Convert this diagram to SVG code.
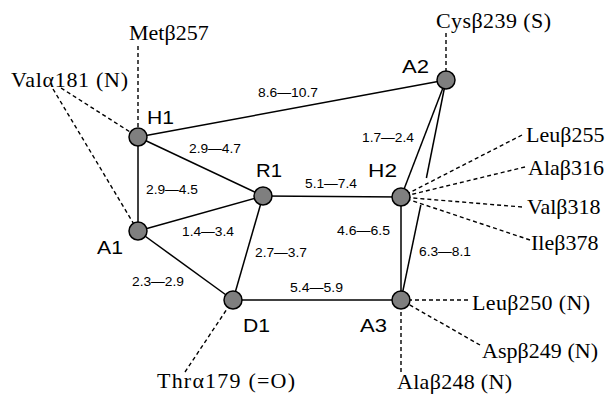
<svg xmlns="http://www.w3.org/2000/svg" width="606" height="394" viewBox="0 0 606 394">
<style>
.e{stroke:#000;stroke-width:1.5;fill:none}
.d{stroke:#000;stroke-width:1.4;fill:none;stroke-dasharray:4 3}
.n{fill:#7f7f7f;stroke:#000;stroke-width:1.5}
.nl{font-family:"Liberation Sans",Arial,sans-serif;font-size:18px;fill:#000}
.el{font-family:"Liberation Sans",Arial,sans-serif;font-size:12.5px;fill:#000}
.rl{font-family:"Liberation Serif","Times New Roman",serif;font-size:22px;fill:#000}
</style>
<rect width="606" height="394" fill="#fff"/>
<g id="connectors">
<line class="e" x1="138" y1="137" x2="446" y2="80"/>
<line class="e" x1="138" y1="137" x2="263" y2="196"/>
<line class="e" x1="138" y1="137" x2="138" y2="231"/>
<line class="e" x1="138" y1="231" x2="263" y2="196"/>
<line class="e" x1="138" y1="231" x2="233" y2="300"/>
<line class="e" x1="263" y1="196" x2="233" y2="300"/>
<line class="e" x1="263" y1="196" x2="401" y2="197"/>
<line class="e" x1="446" y1="80" x2="401" y2="197"/>
<line class="e" x1="446" y1="80" x2="426.4" y2="178"/>
<line class="e" x1="420.8" y1="205" x2="401" y2="300"/>
<line class="e" x1="401" y1="197" x2="401" y2="300"/>
<line class="e" x1="233" y1="300" x2="401" y2="300"/>
<line class="d" x1="138" y1="46" x2="138" y2="137"/>
<line class="d" x1="61" y1="88" x2="138" y2="137"/>
<line class="d" x1="53" y1="89" x2="138" y2="231"/>
<line class="d" x1="446" y1="33" x2="446" y2="80"/>
<line class="d" x1="522" y1="135" x2="401" y2="197"/>
<line class="d" x1="525" y1="167" x2="401" y2="197"/>
<line class="d" x1="522" y1="207" x2="401" y2="197"/>
<line class="d" x1="530" y1="240" x2="401" y2="197"/>
<line class="d" x1="468" y1="300" x2="401" y2="300"/>
<line class="d" x1="480" y1="345" x2="401" y2="300"/>
<line class="d" x1="401" y1="372" x2="401" y2="300"/>
<line class="d" x1="185" y1="372" x2="233" y2="300"/>
<text class="el" x="258" y="97" textLength="60" lengthAdjust="spacingAndGlyphs">8.6—10.7</text>
<text class="el" x="189" y="153" textLength="52" lengthAdjust="spacingAndGlyphs">2.9—4.7</text>
<text class="el" x="146" y="194" textLength="52" lengthAdjust="spacingAndGlyphs">2.9—4.5</text>
<text class="el" x="182" y="236" textLength="52" lengthAdjust="spacingAndGlyphs">1.4—3.4</text>
<text class="el" x="255" y="257" textLength="52" lengthAdjust="spacingAndGlyphs">2.7—3.7</text>
<text class="el" x="305" y="188" textLength="52" lengthAdjust="spacingAndGlyphs">5.1—7.4</text>
<text class="el" x="362" y="142" textLength="52" lengthAdjust="spacingAndGlyphs">1.7—2.4</text>
<text class="el" x="337" y="235" textLength="53" lengthAdjust="spacingAndGlyphs">4.6—6.5</text>
<text class="el" x="419" y="256" textLength="52" lengthAdjust="spacingAndGlyphs">6.3—8.1</text>
<text class="el" x="290" y="292" textLength="53" lengthAdjust="spacingAndGlyphs">5.4—5.9</text>
<text class="el" x="132" y="286" textLength="52" lengthAdjust="spacingAndGlyphs">2.3—2.9</text>
</g>
<g id="H1"><circle class="n" cx="138" cy="137" r="9"/><text class="nl" x="147" y="124" textLength="27" lengthAdjust="spacingAndGlyphs">H1</text></g>
<g id="R1"><circle class="n" cx="263" cy="196" r="9"/><text class="nl" x="256" y="177" textLength="26" lengthAdjust="spacingAndGlyphs">R1</text></g>
<g id="A1"><circle class="n" cx="138" cy="231" r="9"/><text class="nl" x="97" y="254" textLength="26" lengthAdjust="spacingAndGlyphs">A1</text></g>
<g id="D1"><circle class="n" cx="233" cy="300" r="9"/><text class="nl" x="243" y="332" textLength="27" lengthAdjust="spacingAndGlyphs">D1</text></g>
<g id="A2"><circle class="n" cx="446" cy="80" r="9"/><text class="nl" x="402" y="73" textLength="27" lengthAdjust="spacingAndGlyphs">A2</text></g>
<g id="H2"><circle class="n" cx="401" cy="197" r="9"/><text class="nl" x="368" y="177" textLength="29" lengthAdjust="spacingAndGlyphs">H2</text></g>
<g id="A3"><circle class="n" cx="401" cy="300" r="9"/><text class="nl" x="360" y="332" textLength="27" lengthAdjust="spacingAndGlyphs">A3</text></g>
<g id="residues">
<text class="rl" x="129" y="40">Metβ257</text>
<text class="rl" x="11" y="87" textLength="117">Valα181 (N)</text>
<text class="rl" x="436" y="28" textLength="115">Cysβ239 (S)</text>
<text class="rl" x="526" y="142">Leuβ255</text>
<text class="rl" x="528" y="175">Alaβ316</text>
<text class="rl" x="527" y="214">Valβ318</text>
<text class="rl" x="531" y="250">Ileβ378</text>
<text class="rl" x="472" y="310" textLength="118">Leuβ250 (N)</text>
<text class="rl" x="482" y="358" textLength="116">Aspβ249 (N)</text>
<text class="rl" x="397" y="389" textLength="115">Alaβ248 (N)</text>
<text class="rl" x="157" y="388" textLength="138">Thrα179 (=O)</text>
</g>
</svg>
